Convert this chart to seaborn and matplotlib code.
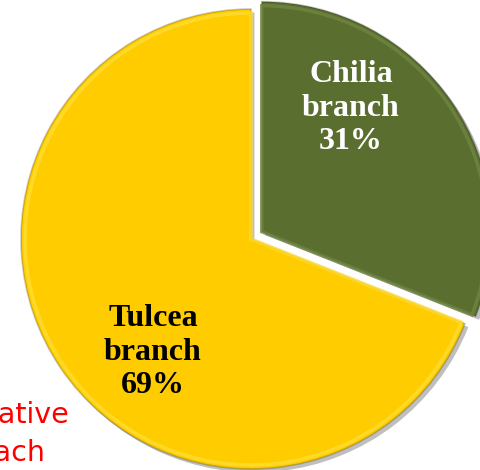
import matplotlib
matplotlib.use("Agg")
import matplotlib.pyplot as plt
import matplotlib.patheffects as pe
import seaborn as sns

# Share of flow between the two Danube delta branches
branches = ["Chilia branch", "Tulcea branch"]
shares = [31, 69]
slice_colors = ["#5A6E2F", "#FFCC00"]
label_colors = ["white", "black"]
side_lines = ["Relative", "each"]

sns.set_theme(style="white")
palette = sns.color_palette(slice_colors)

fig = plt.figure(figsize=(4.81, 4.70), dpi=100)
ax = fig.add_axes([0, 0, 1, 1])

center = (251, 231)
radius = 230
offset = 13  # pull-out distance of the Chilia slice, in pixels

wedges, _ = ax.pie(
    shares,
    colors=palette,
    startangle=90,
    counterclock=False,
    explode=[offset, 0],
    center=center,
    radius=radius,
    wedgeprops=dict(edgecolor="#00000033", linewidth=1.2),
)
for w in wedges:
    w.set_path_effects([
        pe.SimplePatchShadow(offset=(2.5, -2.5), shadow_rgbFace="#000000", alpha=0.25),
        pe.Normal(),
    ])

# light inner rim for a bevelled look
rim_colors = ["#6F8540", "#FFDD33"]
rims, _ = ax.pie(
    shares,
    colors=["none", "none"],
    startangle=90,
    counterclock=False,
    explode=[offset, 0],
    center=center,
    radius=radius - 4,
    wedgeprops=dict(linewidth=2.5, fill=False),
)
for r, c in zip(rims, rim_colors):
    r.set_edgecolor(c)
    r.set_alpha(0.8)

ax.set_xlim(0, 481)
ax.set_ylim(0, 470)
ax.set_aspect("equal", adjustable="box")
ax.axis("off")

label_font = dict(family="Liberation Serif", fontweight="bold", fontsize=23,
                  ha="center", va="center", linespacing=1.2)
ax.text(351, 470 - 108, f"{branches[0].replace(' ', chr(10))}\n{shares[0]}%",
        color=label_colors[0], **label_font)
ax.text(153, 470 - 352, f"{branches[1].replace(' ', chr(10))}\n{shares[1]}%",
        color=label_colors[1], **label_font)

side_font = dict(family="DejaVu Sans", fontsize=20.5, color="red", ha="right", va="baseline")
ax.text(69, 470 - 423, side_lines[0], **side_font)
ax.text(45, 470 - 461, side_lines[1], **side_font)

fig.savefig("out.png", dpi=100)
